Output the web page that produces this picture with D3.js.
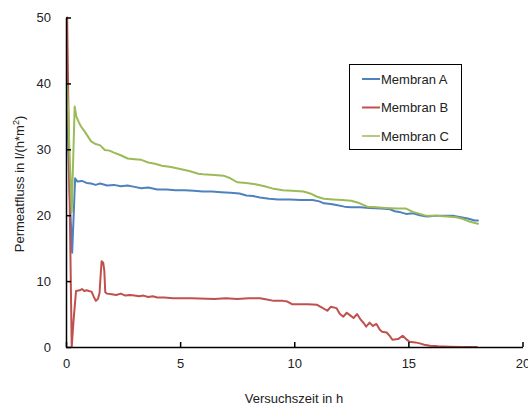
<!DOCTYPE html>
<html>
<head>
<meta charset="utf-8">
<script src="https://cdn.jsdelivr.net/npm/d3@7"></script>
<style>
  html, body { margin: 0; padding: 0; background: #fff; }
  svg { display: block; font-family: "Liberation Sans", Arial, sans-serif; }
</style>
</head>
<body>
<svg id="chart" width="528" height="405"></svg>
<script>
// ---- data (time in h, permeate flux in l/(h*m²)) ----
const seriesNames = ["Membran A", "Membran B", "Membran C"];
const seriesColors = ["#4F81BD", "#C0504D", "#9BBB59"];
const xTicks = [0, 5, 10, 15, 20];
const yTicks = [0, 10, 20, 30, 40, 50];

const membranA = [
  [0.05, 36.5], [0.15, 24], [0.27, 14.3], [0.4, 25.6], [0.5, 25.1], [0.7, 25.2], [0.9, 24.9],
  [1.1, 24.8], [1.3, 24.6], [1.5, 24.8], [1.8, 24.5], [2.1, 24.6], [2.4, 24.4], [2.7, 24.5],
  [3.0, 24.3], [3.3, 24.1], [3.6, 24.2], [4.0, 23.9], [4.4, 23.9], [4.8, 23.8], [5.2, 23.8],
  [5.6, 23.7], [6.0, 23.6], [6.4, 23.6], [6.8, 23.5], [7.2, 23.4], [7.6, 23.3], [7.9, 23.0],
  [8.2, 22.9], [8.5, 22.7], [8.9, 22.5], [9.3, 22.4], [9.8, 22.4], [10.3, 22.3], [10.8, 22.3],
  [11.1, 22.1], [11.3, 21.8], [11.6, 21.7], [11.9, 21.5], [12.2, 21.3], [12.5, 21.2], [12.9, 21.2],
  [13.3, 21.1], [13.8, 21.0], [14.2, 20.9], [14.4, 20.6], [14.6, 20.5], [14.9, 20.2], [15.2, 20.3],
  [15.5, 20.0], [15.8, 19.8], [16.2, 19.9], [16.6, 19.9], [17.0, 19.9], [17.3, 19.7], [17.6, 19.5],
  [17.9, 19.2], [18.05, 19.2]
];

const membranB = [
  [0.05, 50], [0.15, 25], [0.25, 0], [0.33, 4], [0.44, 8.5], [0.6, 8.6], [0.7, 8.8], [0.8, 8.5],
  [0.9, 8.6], [1.0, 8.5], [1.12, 8.4], [1.22, 7.6], [1.31, 7.0], [1.4, 7.3], [1.47, 8.2],
  [1.52, 11], [1.56, 13.0], [1.63, 12.8], [1.68, 11.5], [1.72, 8.3], [1.8, 8.1], [2.0, 8.0],
  [2.2, 7.9], [2.4, 8.1], [2.6, 7.8], [2.8, 7.9], [3.0, 7.8], [3.2, 7.7], [3.4, 7.8], [3.6, 7.6],
  [3.8, 7.7], [4.0, 7.5], [4.3, 7.5], [4.7, 7.4], [5.5, 7.4], [6.5, 7.3], [7.0, 7.4], [7.5, 7.3],
  [8.0, 7.4], [8.5, 7.4], [8.8, 7.2], [9.1, 7.0], [9.5, 7.0], [9.7, 6.9], [9.9, 6.5], [10.2, 6.5],
  [10.6, 6.5], [11.0, 6.4], [11.2, 6.0], [11.45, 5.5], [11.6, 6.1], [11.85, 5.9], [12.0, 5.0],
  [12.15, 4.6], [12.3, 5.2], [12.45, 4.8], [12.6, 4.4], [12.75, 5.0], [12.9, 4.2], [13.05, 3.6],
  [13.15, 3.1], [13.3, 3.7], [13.45, 3.2], [13.6, 3.5], [13.75, 2.6], [13.85, 2.3], [14.05, 2.2],
  [14.2, 1.6], [14.3, 1.1], [14.55, 1.2], [14.75, 1.7], [14.9, 1.2], [15.05, 0.8], [15.3, 0.7],
  [15.5, 0.55], [15.7, 0.35], [15.95, 0.2], [16.3, 0.1], [16.8, 0.05], [17.3, 0.0], [17.7, 0.0],
  [18.0, 0.0]
];

const membranC = [
  [0.05, 40], [0.15, 30], [0.25, 20.5], [0.38, 36.5], [0.45, 35], [0.55, 34.2], [0.65, 33.5],
  [0.8, 32.8], [0.95, 32], [1.1, 31.2], [1.3, 30.8], [1.5, 30.6], [1.7, 29.9], [1.9, 29.8],
  [2.1, 29.5], [2.4, 29.1], [2.7, 28.6], [3.0, 28.5], [3.3, 28.4], [3.6, 28.0], [3.9, 27.8],
  [4.2, 27.5], [4.6, 27.3], [5.0, 27.0], [5.4, 26.7], [5.8, 26.3], [6.0, 26.2], [6.5, 26.1],
  [6.9, 26.0], [7.2, 25.6], [7.5, 25.0], [7.9, 24.9], [8.3, 24.7], [8.7, 24.4], [9.1, 24.0],
  [9.5, 23.8], [9.9, 23.7], [10.4, 23.6], [10.7, 23.3], [11.0, 22.8], [11.3, 22.5], [11.7, 22.4],
  [12.1, 22.3], [12.5, 22.2], [12.8, 21.9], [13.0, 21.6], [13.2, 21.3], [13.6, 21.2], [14.0, 21.1],
  [14.5, 21.0], [14.9, 21.0], [15.2, 20.5], [15.5, 20.2], [15.8, 19.9], [16.2, 19.9], [16.7, 19.8],
  [17.1, 19.7], [17.4, 19.4], [17.7, 19.0], [18.05, 18.7]
];

const allSeries = [membranA, membranB, membranC];

// ---- chart ----
const svg = d3.select("#chart");
const x = d3.scaleLinear().domain([0, 20]).range([66, 522.5]);
const y = d3.scaleLinear().domain([0, 50]).range([347, 17.5]);

// lines
const line = d3.line().x(d => x(d[0])).y(d => y(d[1])).curve(d3.curveLinear);
svg.append("g").selectAll("path")
  .data(allSeries)
  .join("path")
  .attr("d", line)
  .attr("fill", "none")
  .attr("stroke", (d, i) => seriesColors[i])
  .attr("stroke-width", 2)
  .attr("stroke-linejoin", "round")
  .attr("stroke-linecap", "round");

// axes
const xAxis = d3.axisBottom(x).tickValues(xTicks).tickSizeInner(-5).tickSizeOuter(0).tickPadding(12);
const yAxis = d3.axisLeft(y).tickValues(yTicks).tickSizeInner(-5).tickSizeOuter(0).tickPadding(15);

const gx = svg.append("g").attr("transform", `translate(0,${y(0)})`).call(xAxis);
const gy = svg.append("g").attr("transform", `translate(${x(0)},0)`).call(yAxis);

[gx, gy].forEach(g => {
  g.select(".domain").attr("stroke", "#000").attr("stroke-width", 1.5);
  g.selectAll(".tick line").attr("stroke", "#000").attr("stroke-width", 1.5);
  g.selectAll(".tick text").attr("fill", "#222").style("font-size", "13px")
    .style("font-family", '"Liberation Sans", Arial, sans-serif');
});

// axis titles
svg.append("text")
  .attr("x", 294).attr("y", 403)
  .attr("text-anchor", "middle")
  .attr("fill", "#222")
  .style("font-size", "13px")
  .text("Versuchszeit in h");

const yt = svg.append("text")
  .attr("transform", "translate(24,184) rotate(-90)")
  .attr("text-anchor", "middle")
  .attr("fill", "#222")
  .style("font-size", "13px");
yt.append("tspan").text("Permeatfluss in l/(h*m");
yt.append("tspan").attr("dy", -5).style("font-size", "9px").text("2");
yt.append("tspan").attr("dy", 5).text(")");

// legend
const legend = svg.append("g");
legend.append("rect")
  .attr("x", 349.5).attr("y", 64.5).attr("width", 112).attr("height", 85)
  .attr("fill", "#fff").attr("stroke", "#000").attr("stroke-width", 1);
const items = legend.selectAll("g.item")
  .data(seriesNames)
  .join("g")
  .attr("class", "item")
  .attr("transform", (d, i) => `translate(0,${79 + i * 28.5})`);
items.append("line")
  .attr("x1", 362).attr("x2", 380).attr("y1", 0).attr("y2", 0)
  .attr("stroke", (d, i) => seriesColors[i])
  .attr("stroke-width", (d, i) => i === 2 ? 1.5 : 2);
items.append("text")
  .attr("x", 381).attr("y", 4.5)
  .attr("fill", "#222")
  .style("font-size", "13px")
  .text(d => d);
</script>
</body>
</html>
